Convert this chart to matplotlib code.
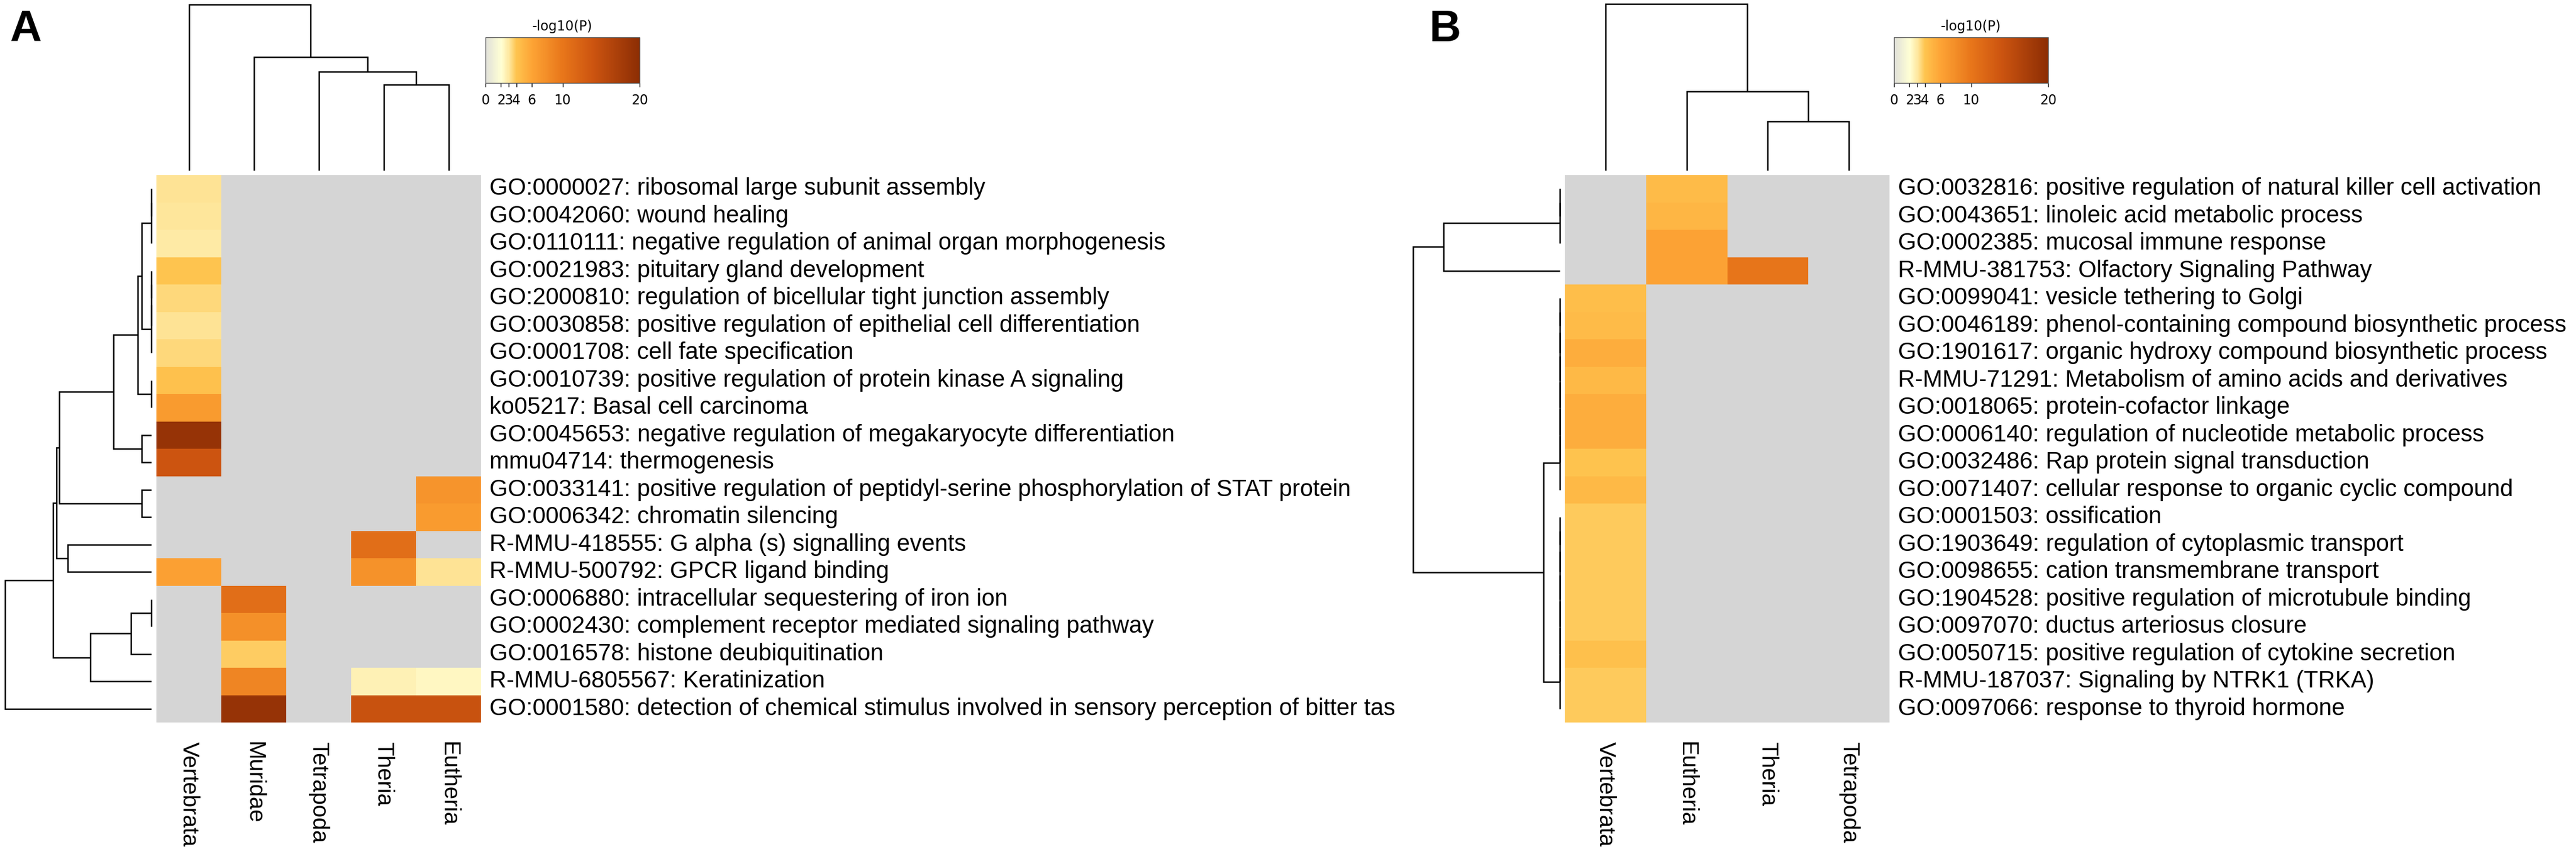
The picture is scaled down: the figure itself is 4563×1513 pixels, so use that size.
import numpy as np
import matplotlib
matplotlib.use("Agg")
import matplotlib.pyplot as plt
from matplotlib.colors import LinearSegmentedColormap, Normalize
from matplotlib.cm import ScalarMappable
from matplotlib.transforms import blended_transform_factory

nan = np.nan

# ---------------- data ----------------
a_cols = ["Vertebrata", "Muridae", "Tetrapoda", "Theria", "Eutheria"]
a_terms = [
    "GO:0000027: ribosomal large subunit assembly",
    "GO:0042060: wound healing",
    "GO:0110111: negative regulation of animal organ morphogenesis",
    "GO:0021983: pituitary gland development",
    "GO:2000810: regulation of bicellular tight junction assembly",
    "GO:0030858: positive regulation of epithelial cell differentiation",
    "GO:0001708: cell fate specification",
    "GO:0010739: positive regulation of protein kinase A signaling",
    "ko05217: Basal cell carcinoma",
    "GO:0045653: negative regulation of megakaryocyte differentiation",
    "mmu04714: thermogenesis",
    "GO:0033141: positive regulation of peptidyl-serine phosphorylation of STAT protein",
    "GO:0006342: chromatin silencing",
    "R-MMU-418555: G alpha (s) signalling events",
    "R-MMU-500792: GPCR ligand binding",
    "GO:0006880: intracellular sequestering of iron ion",
    "GO:0002430: complement receptor mediated signaling pathway",
    "GO:0016578: histone deubiquitination",
    "R-MMU-6805567: Keratinization",
    "GO:0001580: detection of chemical stimulus involved in sensory perception of bitter tas",
]
a_vertebrata = [3.2, 3.05, 2.9, 4.0, 3.5, 3.2, 3.45, 4.2, 6.8, 19.0, 14.0,
                nan, nan, nan, 6.4, nan, nan, nan, nan, nan]
a_muridae = [nan] * 15 + [11.0, 7.8, 3.8, 8.7, 19.0]
a_tetrapoda = [nan] * 20
a_theria = [nan] * 13 + [11.0, 7.6, nan, nan, nan, 2.65, 14.3]
a_eutheria = [nan] * 11 + [7.4, 6.8, nan, 3.2, nan, nan, nan, 2.35, 14.3]

b_cols = ["Vertebrata", "Eutheria", "Theria", "Tetrapoda"]
b_terms = [
    "GO:0032816: positive regulation of natural killer cell activation",
    "GO:0043651: linoleic acid metabolic process",
    "GO:0002385: mucosal immune response",
    "R-MMU-381753: Olfactory Signaling Pathway",
    "GO:0099041: vesicle tethering to Golgi",
    "GO:0046189: phenol-containing compound biosynthetic process",
    "GO:1901617: organic hydroxy compound biosynthetic process",
    "R-MMU-71291: Metabolism of amino acids and derivatives",
    "GO:0018065: protein-cofactor linkage",
    "GO:0006140: regulation of nucleotide metabolic process",
    "GO:0032486: Rap protein signal transduction",
    "GO:0071407: cellular response to organic cyclic compound",
    "GO:0001503: ossification",
    "GO:1903649: regulation of cytoplasmic transport",
    "GO:0098655: cation transmembrane transport",
    "GO:1904528: positive regulation of microtubule binding",
    "GO:0097070: ductus arteriosus closure",
    "GO:0050715: positive regulation of cytokine secretion",
    "R-MMU-187037: Signaling by NTRK1 (TRKA)",
    "GO:0097066: response to thyroid hormone",
]
b_vertebrata = [nan] * 4 + [4.45, 4.6, 5.4, 4.75, 5.45, 5.4, 4.1, 4.75,
                            3.9, 3.9, 3.9, 3.9, 3.9, 4.25, 3.85, 3.85]
b_eutheria = [4.55, 4.9, 6.2, 6.2] + [nan] * 16
b_theria = [nan, nan, nan, 10.1] + [nan] * 16
b_tetrapoda = [nan] * 20

# linkage: (cluster_a, cluster_b, height); leaves 0..n-1, merge k -> n+k
a_row_link = [
    (0, 1, 0.5), (20, 2, 0.5), (3, 4, 0.5), (22, 5, 0.5), (23, 6, 0.5),
    (21, 24, 17), (7, 8, 0.5), (25, 26, 24), (9, 10, 17), (27, 28, 67),
    (11, 12, 17), (29, 30, 163), (13, 14, 148), (31, 32, 168),
    (15, 16, 0.5), (34, 17, 36), (35, 18, 108), (33, 36, 174), (37, 19, 259),
]
b_row_link = [
    (0, 1, 0.5), (20, 2, 0.5), (21, 3, 206),
    (4, 5, 0.5), (23, 6, 0.5), (24, 7, 0.5), (25, 8, 0.5), (26, 9, 0.5),
    (27, 10, 0.5), (28, 11, 0.5),
    (12, 13, 0.5), (30, 14, 0.5), (31, 15, 0.5), (32, 16, 0.5), (33, 17, 0.5),
    (34, 18, 0.5), (35, 19, 0.5),
    (29, 36, 29), (22, 37, 260),
]
a_col_link = [(3, 4, 152), (2, 5, 175), (1, 6, 201), (0, 7, 294)]
b_col_link = [(2, 3, 87), (1, 4, 140), (0, 5, 295)]

cbar_ticks = [0, 2, 3, 4, 6, 10, 20]

# ---------------- figure ----------------
W, H = 4563, 1513
DPI = 100
fig = plt.figure(figsize=(W / DPI, H / DPI), dpi=DPI)
fig.patch.set_facecolor("white")

LABEL_FONT = ["Liberation Sans", "DejaVu Sans"]


def px_rect(x0, y0, x1, y1):
    return [x0 / W, 1 - y1 / H, (x1 - x0) / W, (y1 - y0) / H]


cmap = LinearSegmentedColormap.from_list(
    "pval",
    [(0 / 20, "#e0e0da"), (2 / 20, "#ffffd4"), (3 / 20, "#fee8a0"),
     (4 / 20, "#fec44f"), (6 / 20, "#fda435"), (10 / 20, "#e8761a"),
     (14 / 20, "#cc5410"), (20 / 20, "#8c2d04")])
cmap.set_bad("#d5d5d5")
norm = Normalize(vmin=0, vmax=20)

LW = 1.8


def draw_dendro(ax, link, n, orient):
    pos = {i: i + 0.5 for i in range(n)}
    hgt = {i: 0.0 for i in range(n)}
    for k, (a, b, h) in enumerate(link):
        pa, pb = pos[a], pos[b]
        ha, hb = hgt[a], hgt[b]
        hs = [ha, h, h, hb]
        ps = [pa, pa, pb, pb]
        if orient == "left":
            ax.plot(hs, ps, color="black", lw=LW, clip_on=False,
                    solid_capstyle="butt", solid_joinstyle="miter")
        else:
            ax.plot(ps, hs, color="black", lw=LW, clip_on=False,
                    solid_capstyle="butt", solid_joinstyle="miter")
        pos[n + k] = (pa + pb) / 2
        hgt[n + k] = h


def panel(hx0, cols, terms, columns_data, row_link, col_link,
          dend_x0, cbar_x0, letter, letter_x):
    n = len(terms)
    m = len(cols)
    hx1 = hx0 + 575
    hy0, hy1 = 310, 1280
    ax = fig.add_axes(px_rect(hx0, hy0, hx1, hy1))
    M = np.ma.masked_invalid(np.array(columns_data, dtype=float).T)
    ax.pcolormesh(np.arange(m + 1), np.arange(n + 1), M, cmap=cmap,
                  norm=norm, shading="flat", edgecolors="none",
                  antialiased=False)
    ax.set_xlim(0, m)
    ax.set_ylim(n, 0)
    ax.axis("off")

    # row labels
    tr = blended_transform_factory(ax.transAxes, ax.transData)
    for i, t in enumerate(terms):
        ax.text(1 + 15 / 575, i + 0.5, t, transform=tr, ha="left",
                va="center", fontsize=30, family=LABEL_FONT,
                color="black", clip_on=False)
    # column labels
    tr2 = blended_transform_factory(ax.transData, ax.transAxes)
    for j, c in enumerate(cols):
        ax.text(j + 0.5, -(1314 - hy1) / (hy1 - hy0), c, transform=tr2,
                rotation=-90, ha="center", va="top", fontsize=29,
                family=LABEL_FONT, color="black", clip_on=False)

    # row dendrogram
    leaf_x = hx0 - 9
    dax = fig.add_axes(px_rect(dend_x0, hy0, leaf_x, hy1))
    draw_dendro(dax, row_link, n, "left")
    dax.set_xlim(leaf_x - dend_x0, 0)
    dax.set_ylim(n, 0)
    dax.axis("off")

    # column dendrogram
    cax_d = fig.add_axes(px_rect(hx0, 0, hx1, 302))
    draw_dendro(cax_d, col_link, m, "top")
    cax_d.set_xlim(0, m)
    cax_d.set_ylim(0, 302)
    cax_d.axis("off")

    # colorbar
    cbx0, cbx1 = cbar_x0, cbar_x0 + 273
    cbax = fig.add_axes(px_rect(cbx0, 66, cbx1, 147))
    cb = fig.colorbar(ScalarMappable(norm=norm, cmap=cmap), cax=cbax,
                      orientation="horizontal", ticks=cbar_ticks)
    cb.outline.set_edgecolor("#555555")
    cb.outline.set_linewidth(1.0)
    cbax.tick_params(axis="x", labelsize=17, length=5, width=1.0,
                     pad=8.5, colors="black")
    for lab in cbax.get_xticklabels():
        lab.set_family("DejaVu Sans")
    fig.text((cbx0 + cbx1) / 2 / W, 1 - 47 / H, "-log10(P)", ha="center",
             va="center", fontsize=17, family="DejaVu Sans")

    # panel letter
    fig.text(letter_x / W, 1 - 73 / H, letter, ha="left", va="baseline",
             fontsize=56, fontweight="bold", family=LABEL_FONT)


panel(277, a_cols, a_terms,
      [a_vertebrata, a_muridae, a_tetrapoda, a_theria, a_eutheria],
      a_row_link, a_col_link, 0, 860, "A", 17)
panel(2772, b_cols, b_terms,
      [b_vertebrata, b_eutheria, b_theria, b_tetrapoda],
      b_row_link, b_col_link, 2500, 3355, "B", 2532)

fig.savefig("out.png", dpi=DPI, facecolor="white")
